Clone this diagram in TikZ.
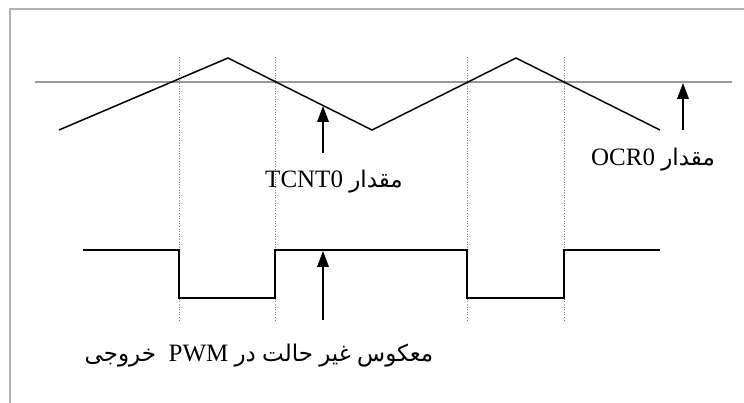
\documentclass[tikz,border=0pt]{standalone}
\usepackage{fontspec}
\usetikzlibrary{calc}
\setmainfont{Liberation Serif}
\newfontfamily\farsifont[Script=Arabic]{DejaVu Sans}
\newcommand{\fa}[1]{{\farsifont\fontsize{23}{28}\selectfont\beginR #1\endR}}
\TeXXeTstate=1
\begin{document}
\begin{tikzpicture}[x=1pt,y=-1pt]
\tikzstyle{every node}+=[inner sep=0pt]
\tikzstyle{wave}=[black, line width=1.5pt]
\tikzstyle{level}=[gray!80, line width=1.8pt]
\tikzstyle{guide}=[gray, dotted, line width=0.6pt]
\tikzstyle{pointer}=[black, line width=1.5pt]
\tikzstyle{caption}=[font=\fontsize{25}{28}\selectfont]
\useasboundingbox (0,0) rectangle (744,403);
\draw [gray!60, line width=1.8pt] (10,410) -- (10,9) -- (750,9);
\draw [level] (35,82) -- (732,82);
\draw [guide] (179,57) -- (179,320);
\draw [guide] (275,57) -- (275,320);
\draw [guide] (467,57) -- (467,320);
\draw [guide] (564,57) -- (564,320);
\draw [wave] (59,130) -- (228,58) -- (372,130) -- (516,58) -- (660,130);
\draw [wave] (83,250) -- (179,250) -- (179,298) -- (275,298) -- (275,250)
  -- (467,250) -- (467,298) -- (564,298) -- (564,250) -- (660,250);
\coordinate (tcntBase) at (323,153);
\coordinate (tcntTip) at (323,106);
\coordinate (ocrBase) at (683,130);
\coordinate (ocrTip) at (683,83);
\coordinate (pwmBase) at (323,320);
\coordinate (pwmTip) at (323,251);
\draw [pointer] (tcntBase) -- ($(tcntTip)+(0,8)$);
\fill [black] (tcntTip) -- ++(-6,16) -- ++(12,0) -- cycle;
\draw [pointer] (ocrBase) -- ($(ocrTip)+(0,8)$);
\fill [black] (ocrTip) -- ++(-6,16) -- ++(12,0) -- cycle;
\draw [pointer] (pwmBase) -- ($(pwmTip)+(0,8)$);
\fill [black] (pwmTip) -- ++(-6,16) -- ++(12,0) -- cycle;
\node [caption] (tcntLabel) at (334,182) {TCNT0 \fa{مقدار}};
\node [caption] (ocrLabel) at (653,160) {OCR0 \fa{مقدار}};
\node [caption] (pwmLabel) at (259,356) {\fa{خروجی}\ \ PWM \fa{در}\ \fa{حالت}\ \fa{غیر}\ \fa{معکوس}};
\end{tikzpicture}
\end{document}
